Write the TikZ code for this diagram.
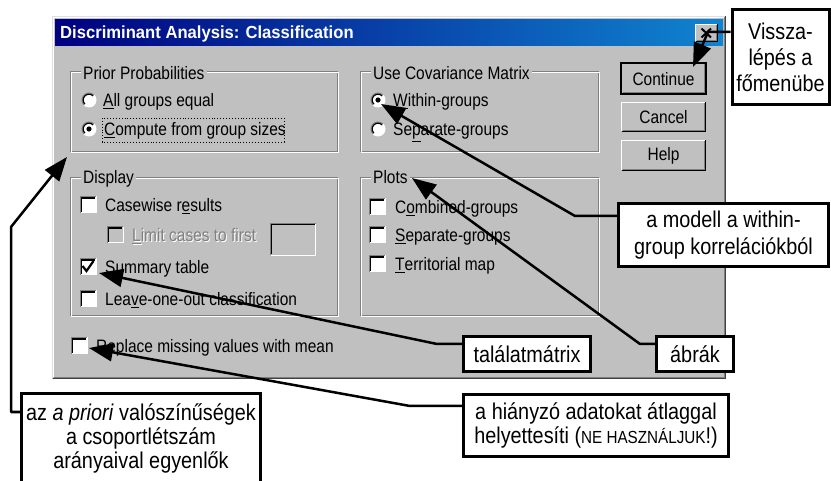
\documentclass[tikz,border=0pt]{standalone}
\usepackage{fontspec}
\setmainfont{Liberation Sans}
\newfontfamily\dlgfont[FakeStretch=0.86]{Liberation Sans}
\newfontfamily\ttlfont[FakeStretch=0.95]{Liberation Sans}
\newfontfamily\callfont[FakeStretch=0.87]{Liberation Sans}
\usetikzlibrary{arrows.meta}

\definecolor{dlgface}{HTML}{C0C0C0}
\definecolor{dlgshadow}{HTML}{808080}
\definecolor{dlglight}{HTML}{DFDFDF}
\definecolor{ttlleft}{HTML}{000080}
\definecolor{ttlright}{HTML}{1084D0}

\tikzset{
  dlgtext/.style={anchor=base west, inner sep=0pt, font=\dlgfont\fontsize{18}{20}\selectfont},
  greytext/.style={dlgtext, text=dlgshadow},
  grouplabel/.style={dlgtext, fill=dlgface, inner xsep=2pt, inner ysep=1pt},
  btnlabel/.style={inner sep=0pt, font=\dlgfont\fontsize{18}{20}\selectfont},
  callout/.style={draw, line width=3pt, fill=white, align=center, inner sep=0pt,
    font=\callfont\fontsize{22.8}{26}\selectfont},
  pointer/.style={line width=2.5pt, line join=round,
    -{Triangle[length=24pt,width=18pt]}},
}

% etched group frame: #1,#2 top-left, #3,#4 bottom-right
\newcommand{\etchframe}[4]{%
  \draw[dlgshadow, line width=1pt] (#1,#2) rectangle (#3,#4);
  \draw[white, line width=1pt] (#1+1,#2+1) rectangle (#3+1,#4+1);
}
% raised push button
\newcommand{\raisedbtn}[4]{%
  \fill[dlgface] (#1,#2) rectangle (#3,#4);
  \draw[white, line width=1pt] (#1+0.5,#4-0.5) -- (#1+0.5,#2+0.5) -- (#3-0.5,#2+0.5);
  \draw[black, line width=1pt] (#1+0.5,#4-0.5) -- (#3-0.5,#4-0.5) -- (#3-0.5,#2+0.5);
  \draw[dlgshadow, line width=1pt] (#1+1.5,#4-1.5) -- (#3-1.5,#4-1.5) -- (#3-1.5,#2+1.5);
}
% sunken field (check box or edit box): corners and fill colour
\newcommand{\sunkenbox}[5]{%
  \fill[#5] (#1,#2) rectangle (#3,#4);
  \draw[white, line width=1pt] (#1+0.5,#4-0.5) -- (#3-0.5,#4-0.5) -- (#3-0.5,#2+0.5);
  \draw[dlgshadow, line width=1pt] (#1+0.5,#4-0.5) -- (#1+0.5,#2+0.5) -- (#3-0.5,#2+0.5);
  \draw[black, line width=1.2pt] (#1+1.6,#4-1.5) -- (#1+1.6,#2+1.6) -- (#3-1.5,#2+1.6);
}
% check box centred at #1,#2
\newcommand{\chkbox}[3]{\sunkenbox{#1-8.5}{#2-8.5}{#1+8.5}{#2+8.5}{#3}}
% radio button centred at #1,#2
\newcommand{\radiobtn}[2]{%
  \fill[white] (#1,#2) circle[radius=7.5];
  \draw[dlgshadow, line width=1.2pt] ([shift={(-225:7)}]#1,#2) arc[start angle=-225, end angle=-45, radius=7];
  \draw[black, line width=1.2pt] ([shift={(-225:5.8)}]#1,#2) arc[start angle=-225, end angle=-45, radius=5.8];
}

\begin{document}
\begin{tikzpicture}[x=1pt, y=-1pt]
\useasboundingbox (0,0) rectangle (831,481);
\clip (0,0) rectangle (831,481);
\fill[white] (0,0) rectangle (831,481);

% ---------------- dialog window ----------------
\fill[dlgface] (52,16) rectangle (726,379);
\draw[dlglight, line width=1pt] (52.5,378.5) -- (52.5,16.5) -- (725.5,16.5);
\draw[white, line width=1pt] (53.5,377.5) -- (53.5,17.5) -- (724.5,17.5);
\draw[black!75, line width=1pt] (52.5,378.5) -- (725.5,378.5) -- (725.5,16.5);
\draw[dlgshadow, line width=1pt] (53.5,377.5) -- (724.5,377.5) -- (724.5,17.5);

% title bar
\shade[left color=ttlleft, right color=ttlright] (55,20) rectangle (723,46);
\node[anchor=base west, inner sep=0pt, text=white,
  font=\ttlfont\bfseries\fontsize{17.5}{20}\selectfont] (title) at (60,39)
  {Discriminant Analysis: Classification};
\raisedbtn{695}{24}{718}{42}
\draw[black, line width=2pt] (701.5,28.5) -- (711,37.5) (711,28.5) -- (701.5,37.5);

% Prior Probabilities
\etchframe{70}{72}{337}{152}
\node[grouplabel] (priorlbl) at (81,80) {Prior Probabilities};
\radiobtn{89}{100}
\node[dlgtext] (allgrp) at (103,107) {\underline{A}ll groups equal};
\radiobtn{89}{129}
\fill[black] (89,129) circle[radius=2.6];
\node[dlgtext] (compgrp) at (104,136) {\underline{C}ompute from group sizes};
\draw[black, dotted, line width=0.9pt] (102,118) rectangle (284,142);

% Use Covariance Matrix
\etchframe{360}{72}{598}{152}
\node[grouplabel] (covlbl) at (371,80) {Use Covariance Matrix};
\radiobtn{378}{100}
\fill[black] (378,100) circle[radius=2.6];
\node[dlgtext] (within) at (393,107) {\underline{W}ithin-groups};
\radiobtn{378}{129}
\node[dlgtext] (separ) at (393,136) {Se\underline{p}arate-groups};

% buttons
\raisedbtn{621}{63}{706}{94}
\draw[black, line width=1.2pt] (621,63) rectangle (706,94);
\node[btnlabel] (contbtn) at (663.5,79) {Continue};
\raisedbtn{621}{102}{706}{132}
\node[btnlabel] (cancbtn) at (663.5,117.5) {Cancel};
\raisedbtn{621}{140}{706}{171}
\node[btnlabel] (helpbtn) at (663.5,156) {Help};

% Display
\etchframe{70}{178}{337}{316}
\node[grouplabel] (displbl) at (81,184) {Display};
\chkbox{88}{205}{white}
\node[dlgtext] (casew) at (105,212) {Casewise r\underline{e}sults};
\chkbox{115}{235}{dlgface}
\node[dlgtext, text=white] at (133,243) {\underline{L}imit cases to first};
\node[greytext] (limit) at (132,242) {\underline{L}imit cases to first};
\sunkenbox{270}{223}{316}{256}{dlgface}
\chkbox{88}{267}{white}
\draw[black, line width=2.2pt] (82.5,266) -- (86.5,271) -- (93.5,261);
\node[dlgtext] (summ) at (105,274) {Summary table};
\chkbox{88}{299}{white}
\node[dlgtext] (leave) at (105,306) {Lea\underline{v}e-one-out classification};

% Plots
\etchframe{360}{178}{598}{316}
\node[grouplabel] (plotlbl) at (371,184) {Plots};
\chkbox{377}{207}{white}
\node[dlgtext] (comb) at (395,214) {C\underline{o}mbined-groups};
\chkbox{377}{235}{white}
\node[dlgtext] (sepg) at (395,242) {\underline{S}eparate-groups};
\chkbox{377}{264}{white}
\node[dlgtext] (terr) at (395,271) {\underline{T}erritorial map};

% missing values
\chkbox{79}{346}{white}
\node[dlgtext] (repl) at (96,353) {Replace missing values with mean};

% ---------------- callouts ----------------
\node[callout, minimum width=97, minimum height=95] (vis) at (780.5,57)
  {Vissza-\\lépés a\\főmenübe};
\node[callout, minimum width=210, minimum height=63.5,
  font=\callfont\fontsize{22.8}{27.5}\selectfont] (mod) at (723.5,235)
  {a modell a within-\\group korrelációkból};
\node[callout, minimum width=77, minimum height=35] (abr) at (695,354) {ábrák};
\node[callout, minimum width=127, minimum height=35] (tal) at (527,354) {találatmátrix};
\node[callout, minimum width=265, minimum height=62,
  font=\callfont\fontsize{22.8}{24}\selectfont] (hia) at (596,425.5)
  {a hiányzó adatokat átlaggal\\helyettesíti ({\fontsize{17.5}{24}\selectfont NE HASZNÁLJUK}!)};
\node[callout, minimum width=239, minimum height=103] (pri) at (141,445) {};
\node[align=center, inner sep=0pt, font=\callfont\fontsize{22.8}{24}\selectfont]
  (pritxt) at (141,438)
  {az \textit{a priori} valószínűségek\\a csoportlétszám\\arányaival egyenlők};

% ---------------- pointers ----------------
\coordinate (e1) at (708,32);   \coordinate (t1) at (693,67);
\coordinate (e2) at (575,216);  \coordinate (t2) at (381,104);
\coordinate (e3) at (640,344);  \coordinate (t3) at (412,178);
\coordinate (e4) at (437,344);  \coordinate (t4) at (99,273);
\coordinate (e5) at (410,406);  \coordinate (t5) at (89,348);
\coordinate (e6) at (11,412);   \coordinate (e7) at (11,227);
\coordinate (t6) at (67,157);

\draw[pointer] (vis.west |- e1) -- (e1) -- (t1);
\draw[pointer] (mod.west |- e2) -- (e2) -- (t2);
\draw[pointer] (abr.west |- e3) -- (e3) -- (t3);
\draw[pointer] (tal.west |- e4) -- (e4) -- (t4);
\draw[pointer] (hia.west |- e5) -- (e5) -- (t5);
\draw[pointer] (pri.west |- e6) -- (e6) -- (e7) -- (t6);
\end{tikzpicture}
\end{document}
